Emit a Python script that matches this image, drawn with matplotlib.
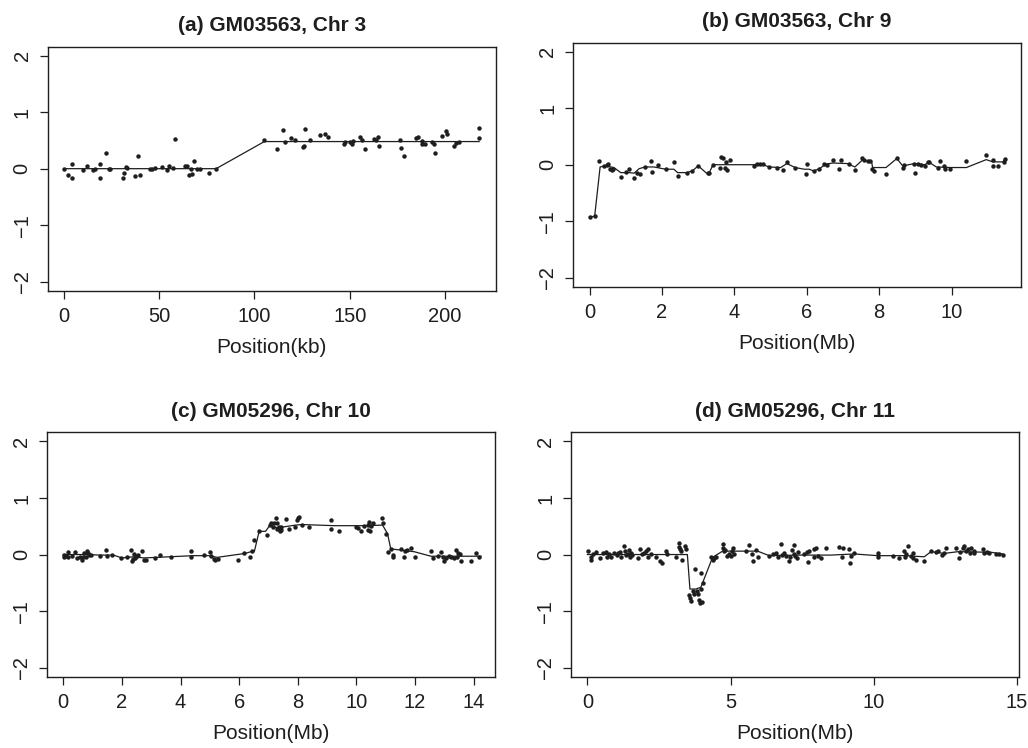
import matplotlib

matplotlib.use("Agg")

import matplotlib.pyplot as plt

# ---- panel (a): GM03563, Chr 3 (kb) ----
a_pos = [0.3, 2.4, 4.5, 4.5, 10.1, 12.2, 15.6, 16.6, 19.2, 19.2, 22.2, 23.8, 24.5,
         31.3, 31.8, 32.7, 33.0, 37.6, 39.2, 40.0, 45.3, 46.1, 47.9, 51.7, 54.4,
         55.2, 57.2, 58.2, 63.6, 64.5, 65.7, 67.1, 66.6, 68.2, 70.1, 71.7, 76.4,
         79.9, 105.2, 111.7, 115.0, 116.1, 119.4, 121.5, 125.5, 125.9, 126.7, 129.2,
         134.6, 137.2, 138.6, 146.7, 147.6, 150.0, 151.0, 151.7, 155.4, 156.5,
         158.2, 162.8, 163.8, 164.7, 165.4, 176.4, 177.0, 178.4, 184.5, 186.0,
         187.8, 188.1, 189.5, 193.3, 194.4, 194.8, 198.6, 200.7, 200.9, 204.4,
         205.8, 207.0, 217.8, 217.8]
a_val = [0.0, -0.12, 0.08, -0.17, -0.02, 0.05, -0.02, -0.01, 0.08, -0.17, 0.27,
         -0.01, 0.0, -0.17, -0.08, 0.03, 0.01, -0.13, 0.22, -0.11, 0.0, 0.0, 0.02,
         0.03, -0.03, 0.05, 0.01, 0.53, 0.05, 0.05, -0.11, -0.09, 0.0, 0.13, -0.01,
         -0.01, -0.07, -0.01, 0.51, 0.35, 0.69, 0.48, 0.55, 0.51, 0.39, 0.41, 0.71,
         0.51, 0.6, 0.61, 0.56, 0.44, 0.47, 0.48, 0.44, 0.49, 0.56, 0.51, 0.34,
         0.53, 0.51, 0.56, 0.41, 0.51, 0.36, 0.22, 0.54, 0.56, 0.49, 0.44, 0.44,
         0.47, 0.44, 0.28, 0.57, 0.67, 0.61, 0.4, 0.45, 0.48, 0.72, 0.54]
a_fit_pos = [0.3, 79.9, 105.2, 217.8]
a_fit_val = [0.0, 0.0, 0.48, 0.48]

# ---- panel (b): GM03563, Chr 9 (Mb) ----
b_pos = [0.0, 0.14, 0.27, 0.40, 0.47, 0.51, 0.57, 0.61, 0.64, 0.86, 1.01, 1.10,
         1.23, 1.30, 1.39, 1.53, 1.70, 1.72, 1.90, 2.10, 2.33, 2.43, 2.68, 2.84,
         3.00, 3.26, 3.30, 3.41, 3.63, 3.68, 3.61, 3.73, 3.78, 3.81, 3.89, 4.53,
         4.62, 4.71, 4.78, 4.96, 5.19, 5.33, 5.45, 5.68, 5.98, 6.02, 6.19, 6.33,
         6.47, 6.56, 6.72, 6.90, 6.96, 7.18, 7.33, 7.53, 7.59, 7.68, 7.76, 7.80,
         7.87, 8.19, 8.49, 8.65, 8.68, 8.96, 9.00, 9.07, 9.16, 9.27, 9.35, 9.39,
         9.69, 9.62, 9.79, 9.82, 9.95, 10.41, 10.96, 11.14, 11.16, 11.28, 11.44, 11.47]
b_val = [-0.93, -0.91, 0.06, -0.03, 0.0, 0.01, -0.07, -0.09, -0.07, -0.21, -0.13,
         -0.08, -0.23, -0.15, -0.16, -0.04, 0.06, -0.13, -0.01, -0.08, 0.04, -0.2,
         -0.14, -0.11, -0.02, -0.15, -0.15, 0.0, 0.13, 0.11, -0.06, -0.06, 0.05,
         -0.09, 0.08, -0.02, 0.01, 0.02, 0.01, -0.04, -0.05, -0.09, 0.05, -0.05,
         -0.16, 0.01, -0.11, -0.07, 0.02, -0.01, 0.09, -0.07, 0.08, 0.02, -0.09,
         0.12, 0.09, 0.06, 0.07, -0.08, -0.11, -0.17, 0.11, -0.05, -0.01, 0.02,
         -0.14, 0.02, -0.01, -0.03, 0.04, 0.05, 0.07, -0.05, -0.02, -0.08, -0.07,
         0.07, 0.17, 0.09, -0.02, -0.02, 0.04, 0.1]
b_fit_pos = [0.0, 0.14, 0.29, 0.44, 0.67, 0.86, 1.09, 1.23, 1.37, 1.53, 1.78, 2.10,
             2.33, 2.43, 2.68, 2.84, 3.00, 3.23, 3.30, 3.41, 4.00, 4.53, 4.71, 4.96,
             5.28, 5.45, 5.68, 5.93, 6.07, 6.19, 6.35, 6.53, 6.72, 7.13, 7.33, 7.55,
             7.67, 7.79, 7.82, 8.19, 8.49, 8.65, 8.98, 9.25, 9.39, 9.58, 9.99, 10.41,
             10.96, 11.14, 11.42, 11.47]
b_fit_val = [-0.93, -0.91, -0.04, -0.02, -0.05, -0.14, -0.14, -0.15, -0.07, -0.04,
             -0.04, -0.08, -0.08, -0.14, -0.14, -0.11, -0.02, -0.15, -0.15, 0.0, 0.0,
             0.0, 0.02, -0.04, -0.05, 0.02, -0.05, -0.08, -0.08, -0.11, -0.07, 0.01,
             0.03, 0.02, -0.04, 0.09, 0.06, 0.06, -0.05, -0.05, 0.11, -0.02, 0.02,
             0.0, 0.04, -0.04, -0.05, -0.05, 0.09, 0.05, 0.05, 0.1]

# ---- panel (c): GM05296, Chr 10 (Mb) ----
c_pos = [0.02, 0.03, 0.09, 0.17, 0.17, 0.29, 0.40, 0.48, 0.57, 0.63, 0.68, 0.71,
         0.78, 0.82, 0.84, 0.88, 0.94, 1.25, 1.46, 1.48, 1.65, 1.96, 2.18, 2.31,
         2.34, 2.37, 2.42, 2.45, 2.50, 2.56, 2.68, 2.74, 2.83, 3.14, 3.29, 3.68,
         4.34, 4.37, 4.79, 4.99, 5.05, 5.13, 5.19, 5.27, 5.96, 6.18, 6.36, 6.44,
         6.52, 6.69, 6.95, 7.05, 7.09, 7.16, 7.18, 7.24, 7.28, 7.30, 7.36, 7.39,
         7.41, 7.44, 7.61, 7.70, 7.92, 7.96, 8.02, 8.04, 8.13, 8.38, 9.12, 9.14,
         9.41, 9.98, 10.06, 10.17, 10.26, 10.38, 10.40, 10.43, 10.46, 10.51, 10.58,
         10.87, 10.89, 11.00, 11.06, 11.17, 11.23, 11.26, 11.52, 11.61, 11.66,
         11.72, 11.86, 12.01, 12.56, 12.60, 12.77, 12.88, 12.94, 12.97, 13.05,
         13.17, 13.22, 13.34, 13.40, 13.43, 13.48, 13.54, 13.57, 13.91, 14.08, 14.17]
c_val = [0.0, -0.04, -0.02, 0.04, -0.04, -0.02, 0.04, -0.06, -0.04, -0.09, -0.04,
         0.02, -0.05, 0.06, 0.02, 0.0, -0.01, -0.02, 0.08, -0.02, 0.0, -0.06, -0.04,
         0.08, -0.11, -0.08, 0.01, -0.06, -0.02, -0.01, 0.06, -0.09, -0.09, -0.07,
         -0.01, -0.05, 0.06, -0.05, -0.01, 0.05, -0.03, -0.08, -0.1, -0.08, -0.09,
         0.02, -0.05, 0.06, 0.26, 0.41, 0.34, 0.52, 0.55, 0.48, 0.56, 0.64, 0.55,
         0.46, 0.49, 0.42, 0.48, 0.44, 0.63, 0.45, 0.48, 0.61, 0.64, 0.66, 0.52,
         0.49, 0.61, 0.46, 0.42, 0.49, 0.47, 0.42, 0.51, 0.52, 0.44, 0.57, 0.41,
         0.51, 0.56, 0.65, 0.55, 0.37, 0.04, 0.1, -0.05, -0.01, 0.09, -0.05, 0.06,
         0.08, 0.12, -0.05, 0.06, -0.06, -0.02, 0.05, -0.04, -0.12, -0.06, -0.02,
         -0.05, -0.06, 0.08, -0.05, 0.02, 0.01, -0.12, -0.11, 0.02, -0.04]
c_fit_pos = [0.0, 0.80, 1.25, 1.71, 2.00, 2.39, 2.74, 3.19, 4.45, 4.96, 5.25, 6.21,
             6.46, 6.52, 6.68, 6.90, 7.05, 7.24, 7.41, 7.92, 8.15, 9.24, 10.26, 10.89,
             11.06, 11.17, 11.97, 12.54, 13.00, 14.25]
c_fit_val = [0.0, 0.0, -0.01, -0.01, -0.06, -0.04, -0.06, -0.05, -0.02, -0.02, -0.05,
             0.02, 0.06, 0.06, 0.41, 0.41, 0.52, 0.48, 0.48, 0.52, 0.53, 0.51, 0.51,
             0.52, 0.37, 0.1, 0.05, -0.03, -0.03, -0.03]

# ---- panel (d): GM05296, Chr 11 (Mb) ----
d_pos = [0.02, 0.12, 0.14, 0.21, 0.30, 0.45, 0.56, 0.64, 0.68, 0.77, 0.84, 0.93,
         1.02, 1.08, 1.14, 1.19, 1.28, 1.30, 1.35, 1.42, 1.46, 1.49, 1.54, 1.57,
         1.75, 1.84, 1.92, 1.98, 2.04, 2.10, 2.12, 2.21, 2.39, 2.52, 2.59, 2.74,
         2.77, 3.09, 3.19, 3.21, 3.23, 3.26, 3.31, 3.42, 3.45, 3.54, 3.58, 3.61,
         3.68, 3.73, 3.76, 3.82, 3.85, 3.90, 3.94, 3.96, 3.98, 3.99, 4.03, 4.32,
         4.37, 4.43, 4.49, 4.72, 4.75, 4.78, 4.80, 4.89, 4.96, 5.01, 5.06, 5.10,
         5.12, 5.53, 5.65, 5.76, 5.79, 5.87, 5.94, 6.35, 6.48, 6.58, 6.64, 6.75,
         6.79, 6.85, 6.93, 7.05, 7.08, 7.14, 7.20, 7.22, 7.26, 7.30, 7.34, 7.57,
         7.66, 7.69, 7.74, 7.90, 7.92, 7.98, 8.04, 8.15, 8.33, 8.80, 8.88, 8.91,
         9.14, 9.18, 9.20, 9.32, 10.13, 10.16, 10.66, 10.89, 11.04, 11.09, 11.12,
         11.18, 11.29, 11.35, 11.38, 11.46, 11.76, 11.99, 12.17, 12.23, 12.38,
         12.46, 12.53, 12.87, 12.96, 13.01, 13.10, 13.16, 13.22, 13.28, 13.34,
         13.39, 13.49, 13.51, 13.80, 13.86, 13.95, 14.03, 14.27, 14.38, 14.50]
d_val = [0.06, -0.04, -0.09, 0.01, 0.04, -0.06, 0.02, 0.05, -0.05, 0.01, -0.04,
         0.02, -0.01, 0.02, 0.04, -0.04, 0.15, 0.06, 0.0, 0.01, 0.08, -0.04, 0.02,
         -0.01, -0.06, 0.09, 0.01, 0.03, 0.06, 0.1, -0.04, 0.01, -0.04, -0.12,
         -0.15, 0.06, 0.01, -0.04, 0.21, 0.13, 0.09, 0.06, -0.09, 0.15, 0.09,
         -0.71, -0.77, -0.83, -0.64, -0.7, -0.26, -0.64, -0.69, -0.81, -0.86, -0.61,
         -0.33, -0.84, -0.5, -0.04, -0.09, -0.07, -0.05, 0.12, 0.19, 0.06, 0.08,
         -0.02, 0.01, -0.02, 0.06, 0.11, 0.01, 0.06, 0.16, 0.01, -0.11, 0.08, -0.04,
         -0.02, 0.01, 0.02, -0.05, 0.18, 0.0, 0.02, -0.02, -0.11, -0.04, 0.08, 0.01,
         0.16, -0.02, -0.07, 0.05, 0.01, 0.04, -0.14, 0.06, -0.04, 0.09, 0.12,
         -0.02, -0.07, 0.11, 0.13, -0.05, 0.11, 0.09, -0.15, -0.02, 0.02, 0.02,
         -0.05, -0.02, -0.07, 0.06, -0.04, 0.01, 0.15, -0.02, 0.02, -0.07, -0.09,
         -0.12, 0.06, 0.04, 0.06, 0.0, 0.02, 0.11, 0.11, -0.07, 0.04, 0.12, 0.15,
         0.06, 0.09, 0.02, 0.11, 0.02, 0.06, 0.09, 0.02, 0.05, 0.02, 0.01, 0.01, 0.0]
d_fit_pos = [0.0, 3.26, 3.49, 3.58, 3.78, 3.96, 4.37, 4.72, 5.12, 5.94, 6.35, 7.34,
             8.50, 9.32, 10.13, 11.07, 11.76, 11.99, 12.46, 12.93, 14.09, 14.50]
d_fit_val = [0.0, 0.0, 0.0, -0.61, -0.61, -0.58, -0.05, 0.06, 0.06, 0.06, -0.02,
             -0.01, -0.01, 0.01, -0.02, -0.02, -0.04, 0.05, 0.02, 0.05, 0.04, 0.01]

titles = ["(a) GM03563, Chr 3", "(b) GM03563, Chr 9",
          "(c) GM05296, Chr 10", "(d) GM05296, Chr 11"]
xlabels = ["Position(kb)", "Position(Mb)", "Position(Mb)", "Position(Mb)"]
xticks = [[0, 50, 100, 150, 200], [0, 2, 4, 6, 8, 10],
          [0, 2, 4, 6, 8, 10, 12, 14], [0, 5, 10, 15]]
yticks = [-2, -1, 0, 1, 2]

INK = "#1e1e1e"


def draw_panel(ax, pos, val, fit_pos, fit_val, title, xlabel, ticks):
    ax.plot(fit_pos, fit_val, color=INK, lw=0.9, zorder=2)
    ax.plot(pos, val, "o", color=INK, ms=3.2, mew=0, zorder=3)

    span = max(pos) - min(pos)
    ax.set_xlim(min(pos) - 0.04 * span, max(pos) + 0.04 * span)
    ax.set_ylim(-2.16, 2.16)
    ax.set_xticks(ticks)
    ax.set_xticklabels([str(t) for t in ticks])
    ax.set_yticks(yticks)
    ax.set_yticklabels(["\u22122", "\u22121", "0", "1", "2"], rotation=90, va="center")

    for s in ax.spines.values():
        s.set_linewidth(1.0)
        s.set_color(INK)
    ax.tick_params(axis="both", direction="out", length=5.5, width=0.9,
                   color=INK, labelsize=14.5, labelcolor=INK)
    ax.tick_params(axis="x", pad=6)
    ax.tick_params(axis="y", pad=6)

    ax.set_title(title, fontsize=15, fontweight="bold", color=INK, pad=11)
    ax.set_xlabel(xlabel, fontsize=15, color=INK, labelpad=9)


def main():
    plt.rcParams["font.family"] = ["Liberation Sans", "DejaVu Sans"]
    fig = plt.figure(figsize=(10.28, 7.48), dpi=100)

    boxes = [
        [0.0464, 0.6114, 0.4358, 0.3262],
        [0.5574, 0.6167, 0.4361, 0.3262],
        [0.0460, 0.0953, 0.4358, 0.3267],
        [0.5558, 0.0953, 0.4358, 0.3267],
    ]
    data = [
        (a_pos, a_val, a_fit_pos, a_fit_val),
        (b_pos, b_val, b_fit_pos, b_fit_val),
        (c_pos, c_val, c_fit_pos, c_fit_val),
        (d_pos, d_val, d_fit_pos, d_fit_val),
    ]
    for i in range(4):
        ax = fig.add_axes(boxes[i])
        pos, val, fpos, fval = data[i]
        draw_panel(ax, pos, val, fpos, fval, titles[i], xlabels[i], xticks[i])

    fig.savefig("out.png", dpi=100)


if __name__ == "__main__":
    main()
